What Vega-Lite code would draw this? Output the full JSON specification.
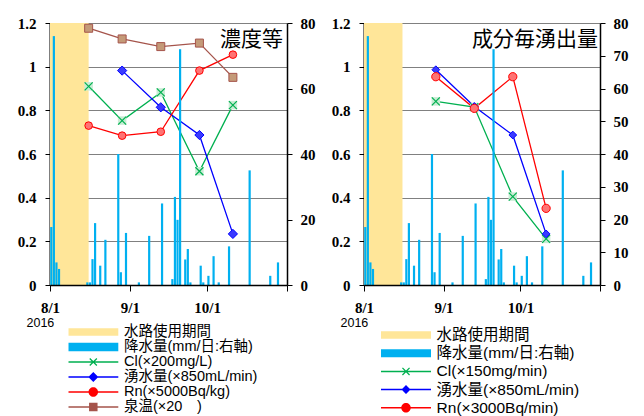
{
 "$schema": "https://vega.github.io/schema/vega-lite/v6.json",
 "background": "white",
 "padding": {"left": 13, "top": 16, "right": 0, "bottom": 0},
 "spacing": 9,
 "config": {
  "view": {"stroke": null},
  "axis": {"labelFont": "Liberation Serif", "labelFontWeight": "bold", "labelFontSize": 15, "labelColor": "black", "domainColor": "black", "tickColor": "black", "gridColor": "#808080", "gridWidth": 1, "titleColor": "black"}
 },
 "datasets": {
  "band": [{"start": "2016-08-01", "end": "2016-08-16"}],
  "rain": [
   {"date": "2016-08-01", "rain": 17.7}, {"date": "2016-08-02", "rain": 76}, {"date": "2016-08-03", "rain": 6.9}, {"date": "2016-08-04", "rain": 4.9},
   {"date": "2016-08-15", "rain": 0.8}, {"date": "2016-08-16", "rain": 0.8}, {"date": "2016-08-17", "rain": 7.9}, {"date": "2016-08-18", "rain": 18.9},
   {"date": "2016-08-20", "rain": 5.9}, {"date": "2016-08-22", "rain": 13.8}, {"date": "2016-08-27", "rain": 40}, {"date": "2016-08-28", "rain": 3.9},
   {"date": "2016-08-30", "rain": 15.9}, {"date": "2016-09-04", "rain": 0.8}, {"date": "2016-09-08", "rain": 15}, {"date": "2016-09-13", "rain": 24.9},
   {"date": "2016-09-17", "rain": 1.8}, {"date": "2016-09-18", "rain": 26.9}, {"date": "2016-09-19", "rain": 19.9}, {"date": "2016-09-20", "rain": 72},
   {"date": "2016-09-22", "rain": 7.8}, {"date": "2016-09-23", "rain": 11}, {"date": "2016-09-24", "rain": 0.8}, {"date": "2016-09-28", "rain": 5.9},
   {"date": "2016-09-29", "rain": 0.8}, {"date": "2016-10-01", "rain": 2.8}, {"date": "2016-10-03", "rain": 8.8}, {"date": "2016-10-05", "rain": 0.8},
   {"date": "2016-10-09", "rain": 11.8}, {"date": "2016-10-17", "rain": 35}, {"date": "2016-10-25", "rain": 2.8}, {"date": "2016-10-28", "rain": 6.9}
  ],
  "L": [
   {"k": "Cl", "s": "Cl(×200mg/L)", "date": "2016-08-16", "v": 0.91},
   {"k": "Cl", "s": "Cl(×200mg/L)", "date": "2016-08-29", "v": 0.753},
   {"k": "Cl", "s": "Cl(×200mg/L)", "date": "2016-09-13", "v": 0.882},
   {"k": "Cl", "s": "Cl(×200mg/L)", "date": "2016-09-28", "v": 0.521},
   {"k": "Cl", "s": "Cl(×200mg/L)", "date": "2016-10-11", "v": 0.824},
   {"k": "Q", "s": "湧水量(×850mL/min)", "date": "2016-08-29", "v": 0.982},
   {"k": "Q", "s": "湧水量(×850mL/min)", "date": "2016-09-13", "v": 0.814},
   {"k": "Q", "s": "湧水量(×850mL/min)", "date": "2016-09-28", "v": 0.687},
   {"k": "Q", "s": "湧水量(×850mL/min)", "date": "2016-10-11", "v": 0.234},
   {"k": "Rn", "s": "Rn(×5000Bq/kg)", "date": "2016-08-16", "v": 0.73},
   {"k": "Rn", "s": "Rn(×5000Bq/kg)", "date": "2016-08-29", "v": 0.684},
   {"k": "Rn", "s": "Rn(×5000Bq/kg)", "date": "2016-09-13", "v": 0.702},
   {"k": "Rn", "s": "Rn(×5000Bq/kg)", "date": "2016-09-28", "v": 0.982},
   {"k": "Rn", "s": "Rn(×5000Bq/kg)", "date": "2016-10-11", "v": 1.055},
   {"k": "T", "s": "泉温(×20　)", "date": "2016-08-16", "v": 1.176},
   {"k": "T", "s": "泉温(×20　)", "date": "2016-08-29", "v": 1.127},
   {"k": "T", "s": "泉温(×20　)", "date": "2016-09-13", "v": 1.092},
   {"k": "T", "s": "泉温(×20　)", "date": "2016-09-28", "v": 1.108},
   {"k": "T", "s": "泉温(×20　)", "date": "2016-10-11", "v": 0.951}
  ],
  "R": [
   {"k": "Cl", "s": "Cl(×150mg/min)", "date": "2016-08-29", "v": 0.841},
   {"k": "Cl", "s": "Cl(×150mg/min)", "date": "2016-09-13", "v": 0.815},
   {"k": "Cl", "s": "Cl(×150mg/min)", "date": "2016-09-28", "v": 0.405},
   {"k": "Cl", "s": "Cl(×150mg/min)", "date": "2016-10-11", "v": 0.211},
   {"k": "Q", "s": "湧水量(×850mL/min)", "date": "2016-08-29", "v": 0.986},
   {"k": "Q", "s": "湧水量(×850mL/min)", "date": "2016-09-13", "v": 0.818},
   {"k": "Q", "s": "湧水量(×850mL/min)", "date": "2016-09-28", "v": 0.687},
   {"k": "Q", "s": "湧水量(×850mL/min)", "date": "2016-10-11", "v": 0.234},
   {"k": "Rn", "s": "Rn(×3000Bq/min)", "date": "2016-08-29", "v": 0.954},
   {"k": "Rn", "s": "Rn(×3000Bq/min)", "date": "2016-09-13", "v": 0.809},
   {"k": "Rn", "s": "Rn(×3000Bq/min)", "date": "2016-09-28", "v": 0.954},
   {"k": "Rn", "s": "Rn(×3000Bq/min)", "date": "2016-10-11", "v": 0.351}
  ]
 },
 "hconcat": [
  {
   "width": 237, "height": 262,
   "title": {"text": "濃度等", "anchor": "end", "frame": "group", "orient": "top", "offset": -34, "fontSize": 21, "font": "Noto Sans CJK JP", "fontWeight": "normal", "color": "black", "dx": -4},
   "layer": [
    {
     "layer": [
      {
       "data": {"name": "band"},
       "mark": {"type": "rect", "color": "#FFE699"},
       "encoding": {
        "x": {"field": "start", "type": "temporal", "title": "2016",
              "scale": {"type": "utc", "domain": [{"year": 2016, "month": 8, "date": 1, "utc": true}, {"year": 2016, "month": 11, "date": 1, "utc": true}]},
              "axis": {"values": [{"year": 2016, "month": 8, "date": 1, "utc": true}, {"year": 2016, "month": 9, "date": 1, "utc": true}, {"year": 2016, "month": 10, "date": 1, "utc": true}, {"year": 2016, "month": 11, "date": 1, "utc": true}],
                       "labelExpr": "utcmonth(datum.value) == 10 ? '' : utcFormat(datum.value, '%-m/%-d')",
                       "labelFlush": false, "labelOverlap": false, "labelAngle": 0, "tickSize": 6, "labelPadding": 9, "domainWidth": 1.5, "grid": false, "zindex": 1,
                       "title": "2016", "titleX": -24, "titleY": 37, "titleAlign": "left", "titleBaseline": "middle", "titleAngle": 0,
                       "titleFont": "Liberation Sans", "titleFontWeight": "normal", "titleFontSize": 12.5}},
        "x2": {"field": "end"},
        "y": {"datum": 0, "type": "quantitative", "title": null, "scale": {"domain": [0, 1.2]},
              "axis": {"orient": "left", "values": [0, 0.2, 0.4, 0.6, 0.8, 1, 1.2], "format": "~g", "grid": true, "tickSize": 5, "labelPadding": 9, "domainWidth": 2, "zindex": 0, "minExtent": 37, "maxExtent": 37, "title": null}},
        "y2": {"datum": 1.2}
       }
      },
      {
       "data": {"name": "L"},
       "mark": {"type": "line", "strokeWidth": 1.3},
       "encoding": {
        "x": {"field": "date", "type": "temporal", "title": "2016"},
        "y": {"field": "v", "type": "quantitative", "title": null},
        "stroke": {"field": "k", "type": "nominal", "legend": null,
                  "scale": {"domain": ["Cl", "Q", "Rn", "T"], "range": ["#00B050", "#0000FF", "#FF0000", "#A5544B"]}}
       }
      },
      {
       "data": {"name": "L"}, "transform": [{"filter": "datum.k == 'Cl'"}],
       "mark": {"type": "point", "shape": "square", "filled": true, "color": "#C8ECD4", "size": 72, "opacity": 1},
       "encoding": {"x": {"field": "date", "type": "temporal", "title": "2016"}, "y": {"field": "v", "type": "quantitative", "title": null}}
      },
      {
       "data": {"name": "L"}, "transform": [{"filter": "datum.k == 'Cl'"}],
       "mark": {"type": "point", "shape": "M-1,-1L1,1M-1,1L1,-1", "filled": false, "color": "#00B050", "strokeWidth": 1.2, "size": 64, "opacity": 1},
       "encoding": {"x": {"field": "date", "type": "temporal", "title": "2016"}, "y": {"field": "v", "type": "quantitative", "title": null}}
      },
      {
       "data": {"name": "L"}, "transform": [{"filter": "datum.k == 'Q'"}],
       "mark": {"type": "point", "shape": "diamond", "filled": true, "fill": "#3A3AFF", "stroke": "#0000FF", "strokeWidth": 1, "size": 85, "opacity": 1},
       "encoding": {"x": {"field": "date", "type": "temporal", "title": "2016"}, "y": {"field": "v", "type": "quantitative", "title": null}}
      },
      {
       "data": {"name": "L"}, "transform": [{"filter": "datum.k == 'Rn'"}],
       "mark": {"type": "point", "shape": "circle", "filled": true, "fill": "#FF7373", "stroke": "#FF0000", "strokeWidth": 1, "size": 58, "opacity": 1},
       "encoding": {"x": {"field": "date", "type": "temporal", "title": "2016"}, "y": {"field": "v", "type": "quantitative", "title": null}}
      },
      {
       "data": {"name": "L"}, "transform": [{"filter": "datum.k == 'T'"}],
       "mark": {"type": "point", "shape": "square", "filled": true, "fill": "#C49A78", "stroke": "#A5544B", "strokeWidth": 1, "size": 64, "opacity": 1},
       "encoding": {"x": {"field": "date", "type": "temporal", "title": "2016"}, "y": {"field": "v", "type": "quantitative", "title": null}}
      },
      {
       "data": {"name": "L"}, "transform": [{"filter": "false"}],
       "mark": {"type": "point", "filled": true, "opacity": 1},
       "encoding": {
        "x": {"field": "date", "type": "temporal", "title": "2016"},
        "y": {"field": "v", "type": "quantitative", "title": null},
        "color": {"field": "s", "type": "nominal",
                  "scale": {"domain": ["水路使用期間", "降水量(mm/日:右軸)", "Cl(×200mg/L)", "湧水量(×850mL/min)", "Rn(×5000Bq/kg)", "泉温(×20　)"],
                            "range": ["#FFE699", "#00B0F0", "#00B050", "#0000FF", "#FF0000", "#A5544B"]},
                  "legend": {"title": null, "orient": "none", "legendX": 18.3, "legendY": 302, "clipHeight": 14, "symbolSize": 2500, "symbolStrokeWidth": 0, "symbolOpacity": 1,
                             "labelFont": "Liberation Sans, Noto Sans CJK JP", "labelFontSize": 14.5, "labelColor": "black", "labelOffset": 5.7, "labelLimit": 300, "rowPadding": 0, "padding": 0}},
        "shape": {"field": "s", "type": "nominal",
                  "scale": {"domain": ["水路使用期間", "降水量(mm/日:右軸)", "Cl(×200mg/L)", "湧水量(×850mL/min)", "Rn(×5000Bq/kg)", "泉温(×20　)"],
                            "range": ["M-1,-0.15H1V0.15H-1Z", "M-1,-0.17H1V0.17H-1Z",
                                      "M-1,-0.03H1V0.03H-1ZM-0.16,-0.124L-0.124,-0.16L0.16,0.124L0.124,0.16ZM0.16,-0.124L-0.124,0.16L-0.16,0.124L0.124,-0.16Z",
                                      "M-1,-0.03H1V0.03H-1ZM0,-0.2L0.2,0L0,0.2L-0.2,0Z",
                                      "M-1,-0.03H1V0.03H-1ZM-0.19,0A0.19,0.19,0,1,1,0.19,0A0.19,0.19,0,1,1,-0.19,0Z",
                                      "M-1,-0.03H1V0.03H-1ZM-0.17,-0.17H0.17V0.17H-0.17Z"]},
                  "legend": {"title": null, "orient": "none", "legendX": 18.3, "legendY": 302, "clipHeight": 14, "symbolSize": 2500, "symbolStrokeWidth": 0, "symbolOpacity": 1,
                             "labelFont": "Liberation Sans, Noto Sans CJK JP", "labelFontSize": 14.5, "labelColor": "black", "labelOffset": 5.7, "labelLimit": 300, "rowPadding": 0, "padding": 0}}
       }
      }
     ]
    },
    {
     "data": {"name": "rain"},
     "mark": {"type": "bar", "color": "#00B0F0", "width": 2.2},
     "encoding": {
      "x": {"field": "date", "timeUnit": "utcyearmonthdate", "bandPosition": 0.5, "type": "temporal", "title": "2016"},
      "y": {"field": "rain", "type": "quantitative", "title": null, "scale": {"domain": [0, 80]},
            "axis": {"orient": "right", "values": [0, 20, 40, 60, 80], "grid": false, "tickSize": 5, "labelPadding": 8, "domainWidth": 1.5, "zindex": 1, "minExtent": 31, "maxExtent": 31, "title": null}}
     }
    }
   ],
   "resolve": {"scale": {"y": "independent"}}
  },
  {
   "width": 236, "height": 262,
   "title": {"text": "成分毎湧出量", "anchor": "end", "frame": "group", "orient": "top", "offset": -34, "fontSize": 21, "font": "Noto Sans CJK JP", "fontWeight": "normal", "color": "black", "dx": -2},
   "layer": [
    {
     "layer": [
      {
       "data": {"name": "band"},
       "mark": {"type": "rect", "color": "#FFE699"},
       "encoding": {
        "x": {"field": "start", "type": "temporal", "title": "2016",
              "scale": {"type": "utc", "domain": [{"year": 2016, "month": 8, "date": 1, "utc": true}, {"year": 2016, "month": 11, "date": 1, "utc": true}]},
              "axis": {"values": [{"year": 2016, "month": 8, "date": 1, "utc": true}, {"year": 2016, "month": 9, "date": 1, "utc": true}, {"year": 2016, "month": 10, "date": 1, "utc": true}, {"year": 2016, "month": 11, "date": 1, "utc": true}],
                       "labelExpr": "utcmonth(datum.value) == 10 ? '' : utcFormat(datum.value, '%-m/%-d')",
                       "labelFlush": false, "labelOverlap": false, "labelAngle": 0, "tickSize": 6, "labelPadding": 9, "domainWidth": 1.5, "grid": false, "zindex": 1,
                       "title": "2016", "titleX": -24, "titleY": 37, "titleAlign": "left", "titleBaseline": "middle", "titleAngle": 0,
                       "titleFont": "Liberation Sans", "titleFontWeight": "normal", "titleFontSize": 12.5}},
        "x2": {"field": "end"},
        "y": {"datum": 0, "type": "quantitative", "title": null, "scale": {"domain": [0, 1.2]},
              "axis": {"orient": "left", "values": [0, 0.2, 0.4, 0.6, 0.8, 1, 1.2], "format": "~g", "grid": true, "tickSize": 5, "labelPadding": 9, "domainWidth": 2, "zindex": 0, "minExtent": 37, "maxExtent": 37, "title": null}},
        "y2": {"datum": 1.2}
       }
      },
      {
       "data": {"name": "R"},
       "mark": {"type": "line", "strokeWidth": 1.3},
       "encoding": {
        "x": {"field": "date", "type": "temporal", "title": "2016"},
        "y": {"field": "v", "type": "quantitative", "title": null},
        "stroke": {"field": "k", "type": "nominal", "legend": null,
                  "scale": {"domain": ["Cl", "Q", "Rn"], "range": ["#00B050", "#0000FF", "#FF0000"]}}
       }
      },
      {
       "data": {"name": "R"}, "transform": [{"filter": "datum.k == 'Cl'"}],
       "mark": {"type": "point", "shape": "square", "filled": true, "color": "#C8ECD4", "size": 72, "opacity": 1},
       "encoding": {"x": {"field": "date", "type": "temporal", "title": "2016"}, "y": {"field": "v", "type": "quantitative", "title": null}}
      },
      {
       "data": {"name": "R"}, "transform": [{"filter": "datum.k == 'Cl'"}],
       "mark": {"type": "point", "shape": "M-1,-1L1,1M-1,1L1,-1", "filled": false, "color": "#00B050", "strokeWidth": 1.2, "size": 64, "opacity": 1},
       "encoding": {"x": {"field": "date", "type": "temporal", "title": "2016"}, "y": {"field": "v", "type": "quantitative", "title": null}}
      },
      {
       "data": {"name": "R"}, "transform": [{"filter": "datum.k == 'Q'"}],
       "mark": {"type": "point", "shape": "diamond", "filled": true, "fill": "#3A3AFF", "stroke": "#0000FF", "strokeWidth": 1, "size": 60, "opacity": 1},
       "encoding": {"x": {"field": "date", "type": "temporal", "title": "2016"}, "y": {"field": "v", "type": "quantitative", "title": null}}
      },
      {
       "data": {"name": "R"}, "transform": [{"filter": "datum.k == 'Rn'"}],
       "mark": {"type": "point", "shape": "circle", "filled": true, "fill": "#FF7373", "stroke": "#FF0000", "strokeWidth": 1, "size": 68, "opacity": 1},
       "encoding": {"x": {"field": "date", "type": "temporal", "title": "2016"}, "y": {"field": "v", "type": "quantitative", "title": null}}
      },
      {
       "data": {"name": "R"}, "transform": [{"filter": "false"}],
       "mark": {"type": "point", "filled": true, "opacity": 1},
       "encoding": {
        "x": {"field": "date", "type": "temporal", "title": "2016"},
        "y": {"field": "v", "type": "quantitative", "title": null},
        "color": {"field": "s", "type": "nominal",
                  "scale": {"domain": ["水路使用期間", "降水量(mm/日:右軸)", "Cl(×150mg/min)", "湧水量(×850mL/min)", "Rn(×3000Bq/min)"],
                            "range": ["#FFE699", "#00B0F0", "#00B050", "#0000FF", "#FF0000"]},
                  "legend": {"title": null, "orient": "none", "legendX": 17, "legendY": 304, "clipHeight": 16, "symbolSize": 2500, "symbolStrokeWidth": 0, "symbolOpacity": 1,
                             "labelFont": "Liberation Sans, Noto Sans CJK JP", "labelFontSize": 15.5, "labelColor": "black", "labelOffset": 5.6, "labelLimit": 300, "rowPadding": 1.2, "padding": 0}},
        "shape": {"field": "s", "type": "nominal",
                  "scale": {"domain": ["水路使用期間", "降水量(mm/日:右軸)", "Cl(×150mg/min)", "湧水量(×850mL/min)", "Rn(×3000Bq/min)"],
                            "range": ["M-1,-0.15H1V0.15H-1Z", "M-1,-0.16H1V0.16H-1Z",
                                      "M-1,-0.03H1V0.03H-1ZM-0.16,-0.124L-0.124,-0.16L0.16,0.124L0.124,0.16ZM0.16,-0.124L-0.124,0.16L-0.16,0.124L0.124,-0.16Z",
                                      "M-1,-0.03H1V0.03H-1ZM0,-0.18L0.18,0L0,0.18L-0.18,0Z",
                                      "M-1,-0.03H1V0.03H-1ZM-0.19,0A0.19,0.19,0,1,1,0.19,0A0.19,0.19,0,1,1,-0.19,0Z"]},
                  "legend": {"title": null, "orient": "none", "legendX": 17, "legendY": 304, "clipHeight": 16, "symbolSize": 2500, "symbolStrokeWidth": 0, "symbolOpacity": 1,
                             "labelFont": "Liberation Sans, Noto Sans CJK JP", "labelFontSize": 15.5, "labelColor": "black", "labelOffset": 5.6, "labelLimit": 300, "rowPadding": 1.2, "padding": 0}}
       }
      }
     ]
    },
    {
     "data": {"name": "rain"},
     "mark": {"type": "bar", "color": "#00B0F0", "width": 2.2},
     "encoding": {
      "x": {"field": "date", "timeUnit": "utcyearmonthdate", "bandPosition": 0.5, "type": "temporal", "title": "2016"},
      "y": {"field": "rain", "type": "quantitative", "title": null, "scale": {"domain": [0, 80]},
            "axis": {"orient": "right", "values": [0, 10, 20, 30, 40, 50, 60, 70, 80], "grid": false, "tickSize": 5, "labelPadding": 8, "domainWidth": 1.5, "zindex": 1, "minExtent": 31, "maxExtent": 31, "title": null}}
     }
    }
   ],
   "resolve": {"scale": {"y": "independent"}}
  }
 ],
 "resolve": {"scale": {"color": "independent", "shape": "independent", "x": "independent", "y": "independent"}, "legend": {"color": "independent", "shape": "independent"}}
}
